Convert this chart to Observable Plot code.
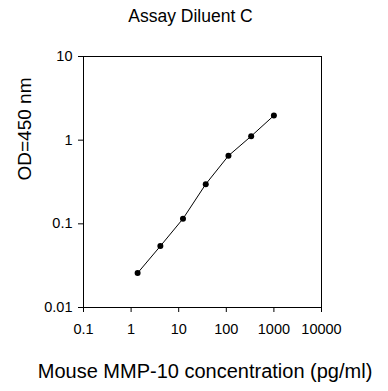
<!DOCTYPE html>
<html>
<head>
<meta charset="utf-8">
<script src="https://cdn.jsdelivr.net/npm/d3@7"></script>
<script src="https://cdn.jsdelivr.net/npm/@observablehq/plot@0.6"></script>
<style>
  html, body { margin: 0; padding: 0; background: white; }
</style>
</head>
<body>
<div id="chart"></div>
<script>
const title = "Assay Diluent C";
const xLabel = "Mouse MMP-10 concentration (pg/ml)";
const yLabel = "OD=450 nm";
const concentration = [1.37, 4.12, 12.3, 37, 111, 333, 1000];
const od = [0.0258, 0.0542, 0.115, 0.298, 0.651, 1.116, 1.97];
const xTicks = [0.1, 1, 10, 100, 1000, 10000];
const yTicks = [0.01, 0.1, 1, 10];

const data = concentration.map((c, i) => ({x: c, y: od[i]}));
const font = "'Liberation Sans', Arial, sans-serif";

const chart = Plot.plot({
  width: 388,
  height: 391,
  marginLeft: 83,
  marginRight: 67,
  marginTop: 56,
  marginBottom: 84,
  style: {fontFamily: font, fontSize: "14px", background: "white", color: "black"},
  x: {type: "log", domain: [0.1, 10000]},
  y: {type: "log", domain: [0.01, 10]},
  marks: [
    Plot.frame({stroke: "black"}),
    Plot.axisX({ticks: xTicks, tickFormat: d => String(d), tickSize: 5, tickPadding: 11, label: null, fontSize: 14.5}),
    Plot.axisY({ticks: yTicks, tickFormat: d => String(d), tickSize: 5, tickPadding: 6, label: null, fontSize: 14.5}),
    Plot.line(data, {x: "x", y: "y", stroke: "black", strokeWidth: 1}),
    Plot.dot(data, {x: "x", y: "y", r: 3, fill: "black", stroke: "none"}),
    Plot.text([title], {frameAnchor: "top", lineAnchor: "middle", dx: -12, dy: -40.5, fontSize: 17.5, fill: "black"}),
    Plot.text([xLabel], {frameAnchor: "bottom", lineAnchor: "middle", dx: 2.5, dy: 64, fontSize: 20, fill: "black", style: "letter-spacing: 0.2px"}),
    Plot.text([yLabel], {frameAnchor: "left", lineAnchor: "middle", rotate: -90, dx: -59, dy: -1.5, fontSize: 19, fill: "black"})
  ]
});
document.getElementById("chart").appendChild(chart);
</script>
</body>
</html>
